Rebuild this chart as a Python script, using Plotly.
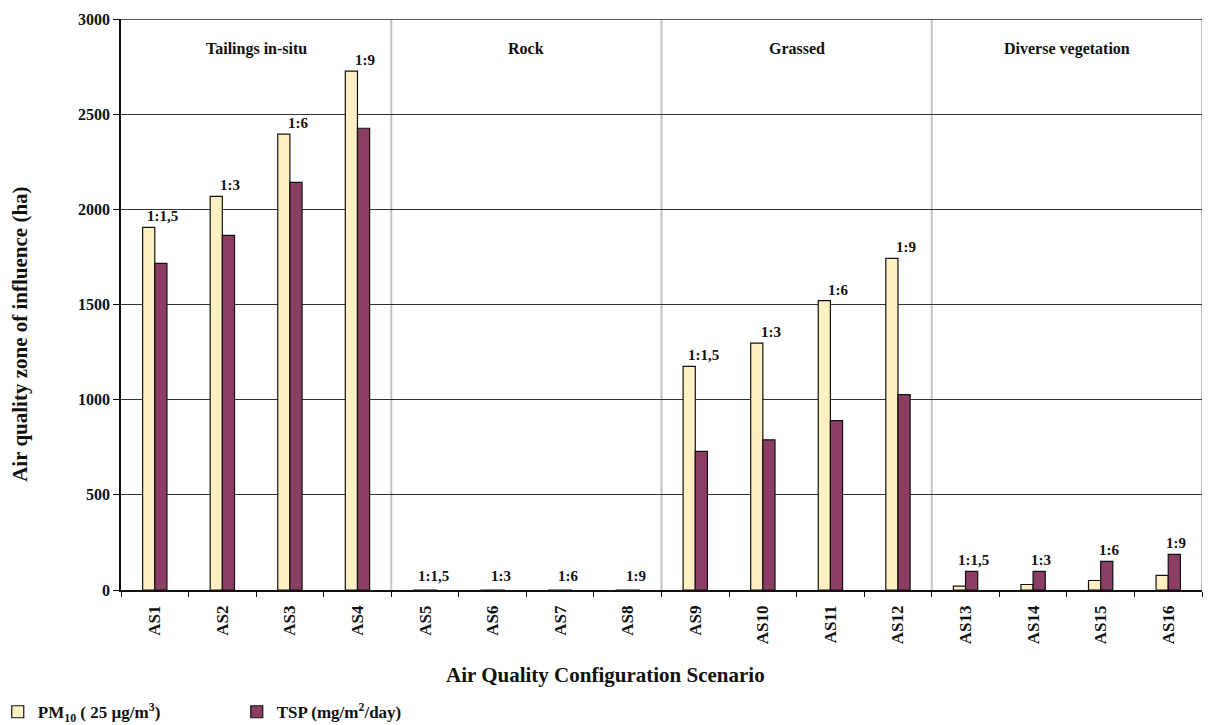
import plotly.graph_objects as go

categories = ["AS1", "AS2", "AS3", "AS4", "AS5", "AS6", "AS7", "AS8",
              "AS9", "AS10", "AS11", "AS12", "AS13", "AS14", "AS15", "AS16"]
pm10 = [1905, 2068, 2395, 2726, 0, 0, 0, 0, 1175, 1297, 1520, 1742, 20, 29, 50, 77]
tsp = [1716, 1863, 2142, 2426, 0, 0, 0, 0, 728, 789, 890, 1026, 98, 98, 150, 187]
ratio_labels = ["1:1,5", "1:3", "1:6", "1:9"] * 4
groups = ["Tailings in-situ", "Rock", "Grassed", "Diverse vegetation"]
y_ticks = [0, 500, 1000, 1500, 2000, 2500, 3000]

FONT = "'Liberation Serif', 'Times New Roman', serif"
PM_COLOR = "#FFF0C4"
TSP_COLOR = "#8C3D63"

fig = go.Figure()
fig.add_trace(go.Bar(
    x=categories, y=pm10, name="<b>PM<sub>10</sub> ( 25 µg/m<sup>3</sup>)</b>",
    marker=dict(color=PM_COLOR, line=dict(color="#111111", width=1.2)),
))
fig.add_trace(go.Bar(
    x=categories, y=tsp, name="<b>TSP (mg/m<sup>2</sup>/day)</b>",
    marker=dict(color=TSP_COLOR, line=dict(color="#111111", width=1.2)),
))

annotations = []
for i, lab in enumerate(ratio_labels):
    annotations.append(dict(
        x=i, y=max(pm10[i], tsp[i]), xref="x", yref="y",
        text="<b>%s</b>" % lab, showarrow=False, yanchor="bottom",
        xshift=8, yshift=(4 if max(pm10[i], tsp[i]) == 0 else 1),
        font=dict(family=FONT, size=15, color="#111111"),
    ))
for g, name in enumerate(groups):
    annotations.append(dict(
        x=g * 4 + 1.5, y=2845, xref="x", yref="y",
        text="<b>%s</b>" % name, showarrow=False,
        font=dict(family=FONT, size=16, color="#111111"),
    ))
annotations.append(dict(
    x=0.448, y=-0.149, xref="paper", yref="paper", xanchor="center", yanchor="middle",
    text="<b>Air Quality Configuration Scenario</b>", showarrow=False,
    font=dict(family=FONT, size=21, color="#111111"),
))
annotations.append(dict(
    x=-0.0934, y=0.447, xref="paper", yref="paper", textangle=-90,
    xanchor="center", yanchor="middle",
    text="<b>Air quality zone of influence (ha)</b>", showarrow=False,
    font=dict(family=FONT, size=21, color="#111111"),
))

shapes = []
for xb in [3.5, 7.5, 11.5, 15.5]:
    shapes.append(dict(type="line", xref="x", yref="y", x0=xb, x1=xb, y0=0, y1=3000,
                       line=dict(color="#c4c4c4", width=2), layer="below"))
shapes.append(dict(type="line", xref="paper", yref="y", x0=0, x1=1, y0=3000, y1=3000,
                   line=dict(color="#222222", width=1.5)))

fig.update_layout(
    width=1218, height=725,
    margin=dict(l=121, r=16, t=19, b=135, autoexpand=False),
    paper_bgcolor="white", plot_bgcolor="white",
    barmode="group", bargap=0.64, bargroupgap=0,
    font=dict(family=FONT, color="#111111"),
    showlegend=True,
    legend=dict(orientation="h", x=-0.114, y=-0.214, xanchor="left", yanchor="middle",
                font=dict(family=FONT, size=17, color="#111111"),
                entrywidth=194, entrywidthmode="pixels", traceorder="normal"),
    annotations=annotations, shapes=shapes,
)
fig.update_xaxes(
    type="category", range=[-0.5, 15.5], automargin=False,
    showline=True, linecolor="#111111", linewidth=1.5,
    ticks="outside", tickson="boundaries", ticklen=5, tickcolor="#111111",
    tickangle=-90, tickfont=dict(family=FONT, size=17, color="#111111"),
    ticklabelstandoff=7,
    tickprefix="<b>", ticksuffix="</b>", showgrid=False,
)
fig.update_yaxes(
    range=[0, 3000], tickvals=y_ticks, ticktext=["<b>%d</b>" % v for v in y_ticks],
    automargin=False,
    showline=True, linecolor="#111111", linewidth=1.5,
    ticks="outside", ticklen=6, tickcolor="#111111",
    tickfont=dict(family=FONT, size=16, color="#111111"),
    showgrid=True, gridcolor="#333333", gridwidth=1.3, zeroline=False,
)

fig.write_html(
    "out.html",
    config={"displayModeBar": False},
    post_script="document.body.style.margin='0';document.body.style.overflow='hidden';",
)
